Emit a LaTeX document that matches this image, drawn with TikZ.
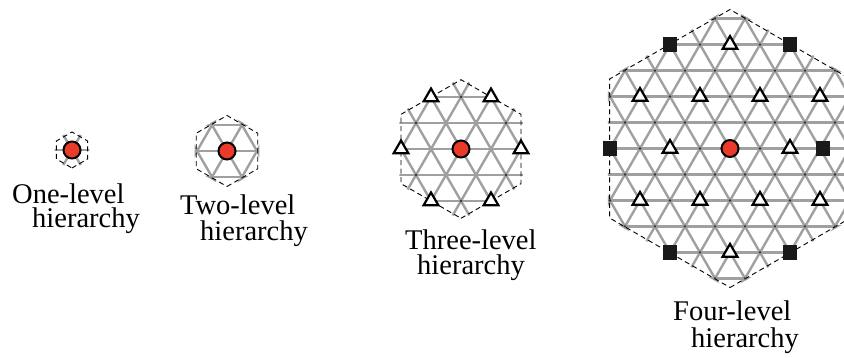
\documentclass[tikz,border=0pt]{standalone}
\usepackage{fontspec}
\setmainfont{Liberation Serif}
\usetikzlibrary{shapes.geometric}

\definecolor{gridgray}{RGB}{160,160,160}
\definecolor{hubred}{RGB}{233,58,42}

\tikzset{
  lattice/.style={gridgray, line width=2.4pt},
  boundary/.style={black, line width=0.9pt, dash pattern=on 5pt off 3.5pt},
  hub/.style={circle, draw=black, line width=2pt, fill=hubred, minimum size=17pt, inner sep=0pt},
  tri/.style={regular polygon, regular polygon sides=3, draw=black, line width=2.2pt,
              fill=white, minimum size=17pt, inner sep=0pt},
  sq/.style={rectangle, fill=black!90, minimum size=14.5pt, inner sep=0pt},
  dot/.style={circle, fill=black!80, minimum size=2.6pt, inner sep=0pt},
  caption/.style={anchor=base west, inner sep=0pt, font=\fontsize{28.5}{28.5}\selectfont},
}

% triangular lattice clipped to a pointy-top hexagon of radius #3, centred at (#1,#2)
\newcommand\hexcell[3]{%
  \begin{scope}[shift={(#1,#2)}]
    \pgfmathsetmacro\rclip{#3+2}
    \begin{scope}
      \clip (90:\rclip) -- (30:\rclip) -- (-30:\rclip) -- (-90:\rclip)
            -- (-150:\rclip) -- (150:\rclip) -- cycle;
      \foreach \k in {-6,...,6}
        \draw[lattice] (-200,\k*25.98) -- (200,\k*25.98);
      \foreach \j in {-12,...,12} {
        \draw[lattice] (\j*30-105,-181.9) -- (\j*30+105,181.9);
        \draw[lattice] (\j*30+105,-181.9) -- (\j*30-105,181.9);
      }
    \end{scope}
    \draw[boundary] (90:#3) -- (30:#3) -- (-30:#3) -- (-90:#3)
                    -- (-150:#3) -- (150:#3) -- cycle;
  \end{scope}}

\begin{document}
\begin{tikzpicture}[x=1pt,y=-1pt]
\useasboundingbox (0,0) rectangle (844,358);
\clip (0,0) rectangle (844,358);

% one level
\hexcell{72}{150}{18}
\node[hub] (h1) at (72,150) {};
\node[caption] (c1a) at (12,204) {One-level};
\node[caption] (c1b) at (32,228) {hierarchy};

% two levels
\hexcell{227}{151}{35.5}
\node[hub] (h2) at (227,151) {};
\node[caption] (c2a) at (180,215) {Two-level};
\node[caption] (c2b) at (200,241) {hierarchy};

% three levels
\hexcell{461}{149}{69.3}
\begin{scope}[shift={(461,149)}]
  \foreach \u/\k [count=\n] in {0/-2,0/2,-3/-1,3/-1,-3/1,3/1}
    \node[dot] (d3-\n) at (\u*15,\k*25.98) {};
  \foreach \u/\k [count=\n] in {-4/0,4/0,-2/-2,2/-2,-2/2,2/2}
    \node[tri] (t3-\n) at (\u*15,\k*25.98) {};
  \node[hub] (h3) at (0,0) {};
\end{scope}
\node[caption] (c3a) at (405,250) {Three-level};
\node[caption] (c3b) at (417,275) {hierarchy};

% four levels
\hexcell{730}{148.5}{139}
\begin{scope}[shift={(730,148.5)}]
  \foreach \u [count=\n] in {-6,-2,2}
    \node[dot] (d4a-\n) at (\u*15,0) {};
  \foreach \k in {-3,-1,1,3}
    \foreach \u [count=\n] in {-7,-5,...,7}
      \node[dot] (d4b\k-\n) at (\u*15,\k*25.98) {};
  \foreach \k in {-2,2}
    \foreach \u [count=\n] in {-8,-4,0,4}
      \node[dot] (d4c\k-\n) at (\u*15,\k*25.98) {};
  \foreach \k in {-4,4}
    \foreach \u [count=\n] in {-2,2}
      \node[dot] (d4d\k-\n) at (\u*15,\k*25.98) {};
  \foreach \k in {-5,5}
    \foreach \u [count=\n] in {-1,1}
      \node[dot] (d4e\k-\n) at (\u*15,\k*25.98) {};
  \foreach \u/\k [count=\n] in {-4/0,4/0,-2/-2,2/-2,-6/-2,6/-2,-2/2,2/2,-6/2,6/2,0/-4,0/4}
    \node[tri] (t4-\n) at (\u*15,\k*25.98) {};
  \foreach \x/\k [count=\n] in {-120/0,93/0,-60/-4,60/-4,-60/4,60/4}
    \node[sq] (s4-\n) at (\x,\k*25.98) {};
  \node[hub] (h4) at (0,0) {};
\end{scope}
\node[caption] (c4a) at (673,320) {Four-level};
\node[caption] (c4b) at (691,348) {hierarchy};
\end{tikzpicture}
\end{document}
